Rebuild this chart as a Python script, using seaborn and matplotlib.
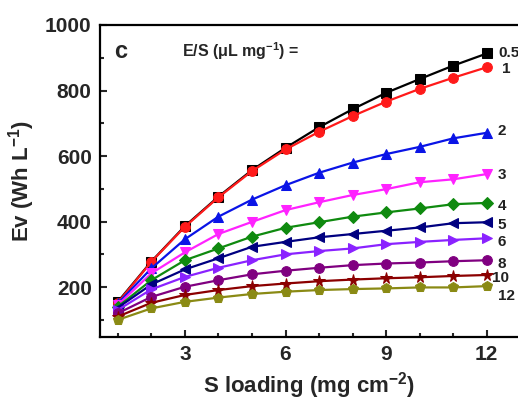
import matplotlib
matplotlib.use("Agg")
import matplotlib.pyplot as plt
from matplotlib.ticker import MultipleLocator
import seaborn as sns
import pandas as pd

s_loading = [1, 2, 3, 4, 5, 6, 7, 8, 9, 10, 11, 12]

es_labels = ["0.5", "1", "2", "3", "4", "5", "6", "8", "10", "12"]

ev_05 = [155, 278, 386, 476, 557, 625, 688, 743, 793, 835, 876, 913]
ev_1 = [152, 277, 384, 474, 554, 620, 674, 722, 766, 805, 839, 871]
ev_2 = [150, 257, 346, 415, 467, 511, 549, 580, 606, 628, 654, 671]
ev_3 = [145, 242, 306, 362, 399, 435, 459, 481, 499, 520, 529, 545]
ev_4 = [140, 221, 282, 318, 354, 381, 398, 415, 428, 440, 453, 457]
ev_5 = [137, 208, 254, 288, 323, 338, 352, 362, 372, 382, 395, 398]
ev_6 = [130, 193, 231, 259, 282, 300, 310, 318, 331, 338, 344, 349]
ev_8 = [120, 170, 201, 221, 239, 250, 259, 267, 272, 275, 279, 282]
ev_10 = [110, 152, 176, 191, 203, 211, 218, 223, 227, 230, 234, 237]
ev_12 = [100, 135, 155, 168, 179, 186, 191, 194, 196, 199, 199, 203]

all_series = [ev_05, ev_1, ev_2, ev_3, ev_4, ev_5, ev_6, ev_8, ev_10, ev_12]

colors = ["#000000", "#ff1a1a", "#0a14e6", "#ff22ff", "#0f8a0f",
          "#000080", "#8a22ff", "#800080", "#8b0000", "#8a8a14"]
marker_list = ["s", "o", "^", "v", "D", "<", ">", "o", "*", "p"]
marker_sizes = [6.5, 7, 7, 7, 6, 7, 7, 7, 8.5, 7.5]

rows = []
for lab, vals in zip(es_labels, all_series):
    for x, v in zip(s_loading, vals):
        rows.append({"S": x, "Ev": v, "ES": lab})
df = pd.DataFrame(rows)

sns.set_style("white")
plt.rcParams["font.family"] = ["Liberation Sans", "DejaVu Sans"]
plt.rcParams["font.weight"] = "bold"
plt.rcParams["mathtext.fontset"] = "custom"
plt.rcParams["mathtext.rm"] = "Liberation Sans:bold"
plt.rcParams["mathtext.it"] = "Liberation Sans:bold"
plt.rcParams["mathtext.bf"] = "Liberation Sans:bold"
plt.rcParams["mathtext.default"] = "regular"

fig = plt.figure(figsize=(5.18, 4.03), dpi=100)
ax = fig.add_axes([0.193, 0.164, 0.807, 0.774])

for lab, col, mk, ms in zip(es_labels, colors, marker_list, marker_sizes):
    sub = df[df["ES"] == lab]
    sns.lineplot(data=sub, x="S", y="Ev", ax=ax, color=col, marker=mk,
                 markersize=ms, markeredgecolor=col, linewidth=1.6,
                 legend=False)

# series labels at the right end
offsets = {"0.5": (8, 0), "1": (11, -1), "2": (8, 1), "3": (8, -1),
           "4": (8, -2), "5": (8, -2), "6": (8, -3), "8": (8, -3),
           "10": (4, -2), "12": (8, -7)}
for lab, vals in zip(es_labels, all_series):
    ax.annotate(lab, xy=(s_loading[-1], vals[-1]), xytext=offsets[lab],
                textcoords="offset points", va="center", ha="left",
                fontsize=11, fontweight="bold", color="#222222",
                annotation_clip=False)

ax.text(0.035, 0.915, "c", transform=ax.transAxes, fontsize=17,
        fontweight="bold", va="center")
ax.text(0.197, 0.915, "E/S (\u03bcL mg$^{-1}$) =",
        transform=ax.transAxes, fontsize=11.5, fontweight="bold",
        va="center")

ax.set_xlim(0.47, 12.93)
ax.set_ylim(48, 1000)
ax.xaxis.set_major_locator(MultipleLocator(3))
ax.xaxis.set_minor_locator(MultipleLocator(1))
ax.yaxis.set_major_locator(MultipleLocator(200))
ax.yaxis.set_minor_locator(MultipleLocator(100))
ax.tick_params(which="both", direction="in", width=1.5, top=False,
               right=False, bottom=True, left=True)
ax.tick_params(which="major", length=5, labelsize=15, pad=6)
ax.tick_params(which="minor", length=3)
for lbl in ax.get_xticklabels() + ax.get_yticklabels():
    lbl.set_fontweight("bold")

for side in ["left", "bottom", "top"]:
    ax.spines[side].set_linewidth(1.6)
    ax.spines[side].set_color("black")
ax.spines["right"].set_visible(False)

ax.set_xlabel("S loading (mg cm$^{-2}$)", fontsize=16,
              fontweight="bold", labelpad=4)
ax.set_ylabel("Ev (Wh L$^{-1}$)", fontsize=16, fontweight="bold",
              labelpad=6)

fig.savefig("out.png", dpi=100)
